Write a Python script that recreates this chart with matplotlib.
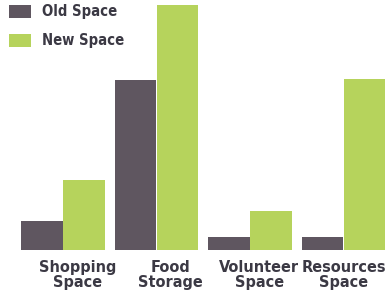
import numpy as np
import matplotlib.pyplot as plt
from matplotlib import font_manager

# ============================================
# Data
# ============================================

categories = ["Shopping\nSpace", "Food\nStorage", "Volunteer\nSpace", "Resources\nSpace"]
old_space  = [29, 170, 13, 13]
new_space  = [70, 245, 39, 171]

OLD_COLOR  = "#5f5660"
NEW_COLOR  = "#b6d35c"
TEXT_COLOR = "#3b3944"

cond = font_manager.FontProperties(family="DejaVu Sans", weight="bold",
                                   stretch="condensed", size=11.6)

# ============================================
# Plot
# ============================================

fig = plt.figure(figsize=(3.9, 2.94), dpi=100)
ax = fig.add_axes([0, 44 / 294, 1, 250 / 294])

x = np.arange(len(categories))
width  = 0.44
offset = 0.225

ax.bar(x - offset, old_space, width, color=OLD_COLOR, label="Old Space")
ax.bar(x + offset, new_space, width, color=NEW_COLOR, label="New Space")

ax.set_xlim(-0.674, 3.497)
ax.set_ylim(0, 250)

label_shift = [0.16, 0.15, 0.1, 0.0]
ax.set_xticks(x + np.array(label_shift))
ax.set_xticklabels(categories, fontproperties=cond,
                   color=TEXT_COLOR, linespacing=1.0)
ax.tick_params(axis="x", length=0, pad=7)
ax.set_yticks([])
for s in ax.spines.values():
    s.set_visible(False)

leg_font = cond.copy()
leg_font.set_size(10.6)
leg = ax.legend(loc="upper left", bbox_to_anchor=(0.012, 1.0), frameon=False,
                prop=leg_font, labelcolor=TEXT_COLOR,
                handlelength=1.5, handleheight=1.05, handletextpad=0.75,
                labelspacing=0.95, borderaxespad=0.1, borderpad=0.2)

fig.savefig("out.png", dpi=100)
